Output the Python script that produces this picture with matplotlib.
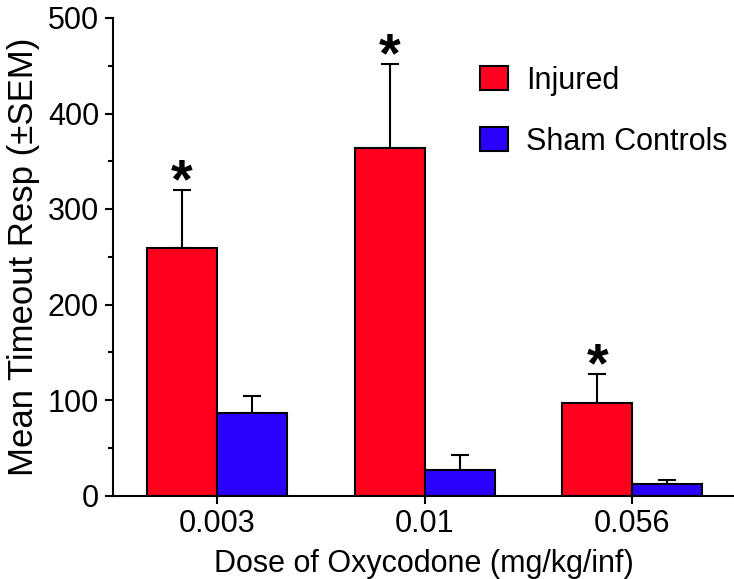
import numpy as np
import matplotlib
matplotlib.use('Agg')
import matplotlib.pyplot as plt
from matplotlib.ticker import MultipleLocator

plt.rcParams['font.family'] = ['Liberation Sans', 'DejaVu Sans']

# data
doses = ['0.003', '0.01', '0.056']
injured = [259, 364, 97]
injured_sem = [61, 88, 30]
sham = [86, 27, 12]
sham_sem = [18, 15, 4]
signif = [True, True, True]

red = '#ff001e'
blue = '#2a00ff'

fig = plt.figure(figsize=(7.34, 5.79), dpi=100)
ax = fig.add_axes([113/734, 1-495.5/579, 1-113/734, (495.5-18)/579])

x = np.arange(len(doses))
w = 0.337
lw = 1.5
ax.bar(x, injured, width=-w, align='edge', color=red, edgecolor='black',
       linewidth=lw, label='Injured', zorder=2)
ax.bar(x, sham, width=w, align='edge', color=blue, edgecolor='black',
       linewidth=lw, label='Sham Controls', zorder=2)
# upper error bars only
ax.errorbar(x-w/2, injured, yerr=[np.zeros(3), injured_sem], fmt='none',
            ecolor='black', elinewidth=lw, capsize=6.5, capthick=lw, zorder=1)
ax.errorbar(x+w/2, sham, yerr=[np.zeros(3), sham_sem], fmt='none',
            ecolor='black', elinewidth=lw, capsize=6.5, capthick=lw, zorder=1)

for i, s in enumerate(signif):
    if s:
        ax.annotate('*', xy=(x[i]-w/2, injured[i]+injured_sem[i]),
                    xytext=(0, -5), textcoords='offset points',
                    ha='center', va='baseline', fontsize=40, fontweight='bold')

ax.set_xlim(-0.5, 2.49)
ax.set_ylim(0, 500)
ax.set_xticks(x)
ax.set_xticklabels(doses)
ax.yaxis.set_major_locator(MultipleLocator(100))
ax.yaxis.set_minor_locator(MultipleLocator(50))
ax.spines['top'].set_visible(False)
ax.spines['right'].set_visible(False)
for sp in ['left', 'bottom']:
    ax.spines[sp].set_linewidth(lw)
ax.tick_params(axis='both', which='major', length=6, width=lw, labelsize=22, pad=4)
ax.tick_params(axis='y', which='minor', length=3.5, width=lw)
ax.set_xlabel('Dose of Oxycodone (mg/kg/inf)', fontsize=22, labelpad=7)
ax.set_ylabel('Mean Timeout Resp (\u00b1SEM)', fontsize=25, labelpad=6)

leg = ax.legend(loc='upper left', bbox_to_anchor=(480/734, 1-66/579),
                bbox_transform=fig.transFigure, frameon=False, fontsize=22,
                handlelength=0.9, handleheight=0.84, handletextpad=0.6,
                labelspacing=1.0, borderpad=0, borderaxespad=0)

fig.savefig('out.png', dpi=100)
